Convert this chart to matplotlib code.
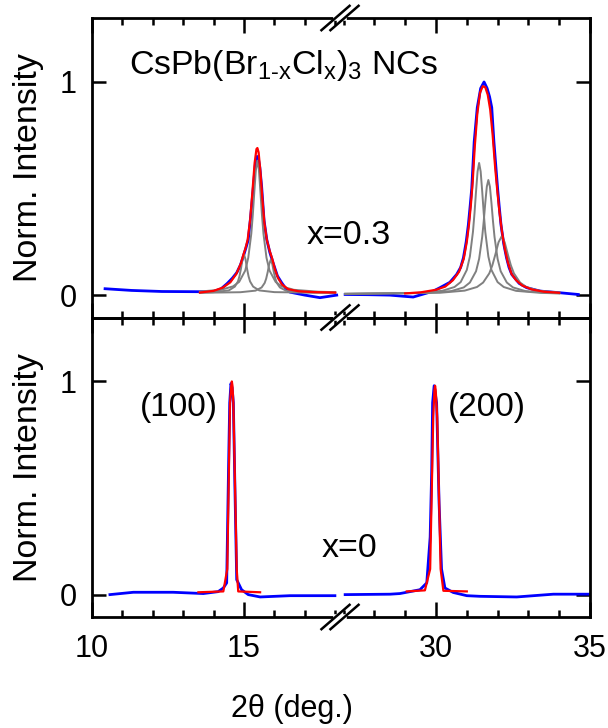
import matplotlib
matplotlib.use("Agg")
import matplotlib.pyplot as plt
from matplotlib.ticker import MultipleLocator, FixedLocator
from matplotlib.lines import Line2D

plt.rcParams['font.family'] = ['Liberation Sans', 'DejaVu Sans']
plt.rcParams['mathtext.fontset'] = 'custom'
plt.rcParams['mathtext.rm'] = 'Liberation Sans'
plt.rcParams['mathtext.it'] = 'Liberation Sans'
plt.rcParams['mathtext.default'] = 'regular'

# ---------------- data ----------------
# top panel, x = 0.3 : (100) region
top_L_blue_x = [10.43, 11.3, 12.3, 13.5, 14.0, 14.25, 14.45, 14.62, 14.76, 14.88, 14.98, 15.06, 15.14, 15.22, 15.31, 15.37, 15.42, 15.46, 15.52, 15.58, 15.66, 15.75, 15.85, 15.96, 16.1, 16.24, 16.38, 16.51, 17.0, 17.5, 18.05]
top_L_blue_y = [0.030, 0.022, 0.017, 0.016, 0.017, 0.03, 0.055, 0.08, 0.105, 0.14, 0.183, 0.22, 0.26, 0.37, 0.51, 0.61, 0.65, 0.65, 0.60, 0.51, 0.35, 0.26, 0.20, 0.15, 0.09, 0.058, 0.03, 0.014, 0.0, -0.012, 0.0]
top_L_red_x = [13.55, 14.0, 14.3, 14.55, 14.75, 14.9, 14.98, 15.05, 15.12, 15.2, 15.28, 15.35, 15.41, 15.44, 15.48, 15.54, 15.6, 15.67, 15.75, 15.84, 15.93, 16.02, 16.12, 16.25, 16.45, 16.8, 17.3, 18.0]
top_L_red_y = [0.012, 0.02, 0.035, 0.06, 0.10, 0.15, 0.19, 0.22, 0.26, 0.35, 0.49, 0.62, 0.685, 0.69, 0.67, 0.58, 0.46, 0.34, 0.26, 0.21, 0.17, 0.12, 0.08, 0.05, 0.028, 0.018, 0.014, 0.012]
top_L_g1_x = [13.55, 14.24, 14.64, 14.84, 15.04, 15.14, 15.24, 15.29, 15.34, 15.39, 15.44, 15.49, 15.54, 15.59, 15.64, 15.74, 15.84, 16.04, 16.24, 16.64, 17.44, 18.0]
top_L_g1_y = [0.017, 0.025, 0.041, 0.062, 0.115, 0.175, 0.288, 0.377, 0.485, 0.587, 0.631, 0.587, 0.485, 0.377, 0.288, 0.175, 0.115, 0.062, 0.041, 0.025, 0.016, 0.014]
top_L_g2_x = [13.55, 14.0, 14.5, 14.7, 14.8, 14.85, 14.9, 14.95, 15.0, 15.05, 15.1, 15.15, 15.2, 15.3, 15.5, 16.0, 17.0, 18.0]
top_L_g2_y = [0.012, 0.014, 0.022, 0.040, 0.064, 0.088, 0.124, 0.168, 0.191, 0.168, 0.124, 0.088, 0.064, 0.040, 0.022, 0.014, 0.012, 0.011]
top_L_g3_x = [13.55, 14.88, 15.38, 15.58, 15.68, 15.73, 15.78, 15.83, 15.88, 15.93, 15.98, 16.03, 16.08, 16.18, 16.38, 16.88, 18.0]
top_L_g3_y = [0.011, 0.0136, 0.021, 0.036, 0.057, 0.0775, 0.1085, 0.146, 0.166, 0.146, 0.1085, 0.0775, 0.057, 0.036, 0.021, 0.0136, 0.011]

# top panel, x = 0.3 : (200) region
top_R_blue_x = [27.05, 27.8, 28.5, 29.0, 29.26, 29.59, 29.9, 30.13, 30.45, 30.67, 30.8, 30.89, 30.98, 31.05, 31.11, 31.16, 31.24, 31.34, 31.45, 31.56, 31.66, 31.74, 31.81, 31.88, 31.94, 32.0, 32.05, 32.11, 32.2, 32.29, 32.37, 32.46, 32.7, 32.94, 33.38, 34.03, 34.62]
top_R_blue_y = [0.003, 0.002, 0.0, -0.006, -0.009, 0.005, 0.018, 0.035, 0.06, 0.097, 0.13, 0.175, 0.25, 0.33, 0.42, 0.50, 0.72, 0.88, 0.97, 1.0, 0.97, 0.93, 0.88, 0.72, 0.61, 0.50, 0.42, 0.33, 0.24, 0.175, 0.13, 0.097, 0.055, 0.035, 0.019, 0.011, 0.003]
top_R_red_x = [29.0, 29.5, 30.0, 30.3, 30.55, 30.75, 30.9, 31.0, 31.07, 31.13, 31.19, 31.26, 31.34, 31.43, 31.52, 31.6, 31.68, 31.76, 31.84, 31.92, 31.99, 32.06, 32.14, 32.23, 32.33, 32.45, 32.6, 32.8, 33.1, 33.5, 34.0]
top_R_red_y = [0.008, 0.013, 0.025, 0.04, 0.07, 0.11, 0.17, 0.25, 0.33, 0.42, 0.53, 0.70, 0.85, 0.95, 0.98, 0.975, 0.94, 0.87, 0.75, 0.60, 0.49, 0.39, 0.30, 0.22, 0.155, 0.10, 0.07, 0.045, 0.027, 0.016, 0.011]
top_R_g1_x = [27.05, 29.4, 30.2, 30.6, 30.8, 31.0, 31.1, 31.2, 31.25, 31.3, 31.35, 31.40, 31.45, 31.5, 31.55, 31.6, 31.7, 31.8, 32.0, 32.2, 32.6, 33.4, 34.0]
top_R_g1_y = [0.006, 0.0105, 0.020, 0.038, 0.061, 0.118, 0.181, 0.297, 0.384, 0.487, 0.58, 0.62, 0.58, 0.487, 0.384, 0.297, 0.181, 0.118, 0.061, 0.038, 0.020, 0.0105, 0.008]
top_R_g2_x = [27.05, 29.7, 30.5, 30.9, 31.1, 31.3, 31.4, 31.5, 31.55, 31.6, 31.65, 31.70, 31.75, 31.8, 31.85, 31.9, 32.0, 32.1, 32.3, 32.5, 32.9, 33.7, 34.0]
top_R_g2_y = [0.006, 0.010, 0.019, 0.036, 0.059, 0.112, 0.170, 0.273, 0.347, 0.433, 0.509, 0.54, 0.509, 0.433, 0.347, 0.273, 0.170, 0.112, 0.059, 0.036, 0.019, 0.010, 0.009]
top_R_g3_x = [27.05, 30.13, 30.93, 31.33, 31.53, 31.73, 31.83, 31.93, 32.03, 32.13, 32.23, 32.33, 32.43, 32.53, 32.73, 32.93, 33.33, 34.0]
top_R_g3_y = [0.006, 0.011, 0.021, 0.038, 0.059, 0.102, 0.140, 0.192, 0.248, 0.275, 0.248, 0.192, 0.140, 0.102, 0.059, 0.038, 0.021, 0.012]

# bottom panel, x = 0
bot_L_blue_x = [10.59, 11.36, 12.67, 13.66, 14.15, 14.32, 14.43, 14.49, 14.53, 14.57, 14.61, 14.65, 14.70, 14.76, 14.92, 15.14, 15.53, 16.51, 17.99]
bot_L_blue_y = [0.0, 0.011, 0.011, 0.005, 0.014, 0.031, 0.055, 0.58, 0.90, 0.99, 0.97, 0.90, 0.51, 0.07, 0.023, 0.0, -0.011, -0.005, -0.005]
bot_L_red_x = [13.5, 14.32, 14.45, 14.54, 14.58, 14.6, 14.62, 14.65, 14.76, 14.81, 15.53]
bot_L_red_y = [0.011, 0.015, 0.12, 0.90, 0.98, 1.0, 0.98, 0.90, 0.12, 0.015, 0.011]
bot_R_blue_x = [27.05, 28.51, 28.83, 29.48, 29.70, 29.81, 29.86, 29.89, 29.94, 30.02, 30.10, 30.18, 30.29, 30.56, 31.0, 31.43, 32.62, 33.81, 34.95]
bot_R_blue_y = [0.0, 0.002, 0.005, 0.023, 0.055, 0.27, 0.58, 0.90, 0.98, 0.90, 0.43, 0.12, 0.031, 0.01, -0.005, -0.008, -0.011, 0.002, 0.002]
bot_R_red_x = [29.05, 29.64, 29.81, 29.91, 29.95, 29.97, 29.99, 30.04, 30.15, 30.24, 31.0]
bot_R_red_y = [0.015, 0.02, 0.12, 0.83, 0.96, 0.98, 0.96, 0.83, 0.12, 0.018, 0.015]

ytick_vals = [0, 1]
ytick_labels = ['0', '1']
xtick_left = [10, 15]
xtick_right = [30, 35]
xtick_left_labels = ['10', '15']
xtick_right_labels = ['30', '35']

# ---------------- layout ----------------
W, H = 608, 728
fig = plt.figure(figsize=(W / 100, H / 100), dpi=100)

x_left_px, x_break_px, x_right_px = 92, 340, 590
top_px, mid_px, bot_px = 18, 317.5, 617
xlim_L = (10, 10 + (x_break_px - x_left_px) / 30.4)
xlim_R = (35 - (x_right_px - x_break_px) / 30.8, 35)
ylim = (-0.105, 1.30)

def fx(px):
    return px / W

def fy(py):
    return 1 - py / H

def make_ax(x0, x1, y0, y1):
    return fig.add_axes([fx(x0), fy(y1), fx(x1) - fx(x0), fy(y0) - fy(y1)])

axTL = make_ax(x_left_px, x_break_px, top_px, mid_px)
axTR = make_ax(x_break_px, x_right_px, top_px, mid_px)
axBL = make_ax(x_left_px, x_break_px, mid_px, bot_px)
axBR = make_ax(x_break_px, x_right_px, mid_px, bot_px)

BLUE = '#0000ff'
RED = '#ff0000'
GRAY = '#808080'
lw_b, lw_r, lw_g = 2.0, 1.6, 1.4

axTL.plot(top_L_blue_x, top_L_blue_y, color=BLUE, lw=lw_b, zorder=2)
for gx, gy in [(top_L_g1_x, top_L_g1_y), (top_L_g2_x, top_L_g2_y), (top_L_g3_x, top_L_g3_y)]:
    axTL.plot(gx, gy, color=GRAY, lw=lw_g, zorder=3)
axTL.plot(top_L_red_x, top_L_red_y, color=RED, lw=lw_r, zorder=4)

axTR.plot(top_R_blue_x, top_R_blue_y, color=BLUE, lw=lw_b, zorder=2)
for gx, gy in [(top_R_g1_x, top_R_g1_y), (top_R_g2_x, top_R_g2_y), (top_R_g3_x, top_R_g3_y)]:
    axTR.plot(gx, gy, color=GRAY, lw=lw_g, zorder=3)
axTR.plot(top_R_red_x, top_R_red_y, color=RED, lw=lw_r, zorder=4)

axBL.plot(bot_L_blue_x, bot_L_blue_y, color=BLUE, lw=lw_b, zorder=2)
axBL.plot(bot_L_red_x, bot_L_red_y, color=RED, lw=lw_r, zorder=4)
axBR.plot(bot_R_blue_x, bot_R_blue_y, color=BLUE, lw=lw_b, zorder=2)
axBR.plot(bot_R_red_x, bot_R_red_y, color=RED, lw=lw_r, zorder=4)

SPINE_LW = 2.0
for ax, side in [(axTL, 'L'), (axTR, 'R'), (axBL, 'L'), (axBR, 'R')]:
    ax.set_xlim(*(xlim_L if side == 'L' else xlim_R))
    ax.set_ylim(*ylim)
    ax.xaxis.set_major_locator(FixedLocator(xtick_left if side == 'L' else xtick_right))
    ax.xaxis.set_minor_locator(MultipleLocator(1))
    ax.set_yticks(ytick_vals)
    ax.set_yticklabels(ytick_labels)
    ax.tick_params(axis='both', which='both', direction='in', top=True, bottom=True,
                   width=1.8, labelsize=22, color='black')
    ax.tick_params(axis='x', which='major', length=10.5, pad=12)
    ax.tick_params(axis='x', which='minor', length=5)
    ax.tick_params(axis='y', which='major', length=10, pad=11)
    for s in ax.spines.values():
        s.set_linewidth(SPINE_LW)
    if side == 'L':
        ax.spines['right'].set_visible(False)
        ax.tick_params(axis='y', left=True, right=False, labelleft=True)
    else:
        ax.spines['left'].set_visible(False)
        ax.tick_params(axis='y', left=False, right=True, labelleft=False)
    ax.patch.set_visible(False)

for ax in (axTL, axTR):
    ax.tick_params(axis='x', labelbottom=False)
axBL.set_xticklabels(xtick_left_labels)
axBR.set_xticklabels(xtick_right_labels)

# break marks
def break_mark(py):
    gap = Line2D([fx(x_break_px - 4), fx(x_break_px + 4)], [fy(py), fy(py)],
                 transform=fig.transFigure, color='white', lw=4, zorder=10)
    fig.add_artist(gap)
    for dx in (-4.5, 4.5):
        cx = x_break_px + dx
        ln = Line2D([fx(cx - 15), fx(cx + 15)], [fy(py + 13), fy(py - 13)],
                    transform=fig.transFigure, color='black', lw=1.8, zorder=11,
                    solid_capstyle='butt')
        fig.add_artist(ln)

for py in (top_px, mid_px, bot_px):
    break_mark(py)

# texts
fs_lab = 24.5
fig.text(fx(29), fy((top_px + mid_px) / 2), 'Norm. Intensity', rotation=90,
         ha='center', va='center', fontsize=fs_lab)
fig.text(fx(29), fy((mid_px + bot_px) / 2), 'Norm. Intensity', rotation=90,
         ha='center', va='center', fontsize=fs_lab)
fig.text(fx(291.7), fy(717), '2\u03b8 (deg.)', ha='center', va='baseline', fontsize=22)

fig.text(fx(129), fy(74), r'CsPb(Br$_{1\text{-}x}$Cl$_x$)$_3$ NCs', ha='left', va='baseline', fontsize=24.4)
fig.text(fx(307), fy(244), 'x=0.3', ha='left', va='baseline', fontsize=24.5)
fig.text(fx(322), fy(557.3), 'x=0', ha='left', va='baseline', fontsize=24.5)
fig.text(fx(140), fy(416), '(100)', ha='left', va='baseline', fontsize=24)
fig.text(fx(448), fy(416), '(200)', ha='left', va='baseline', fontsize=24)

fig.savefig('out.png', dpi=100)
